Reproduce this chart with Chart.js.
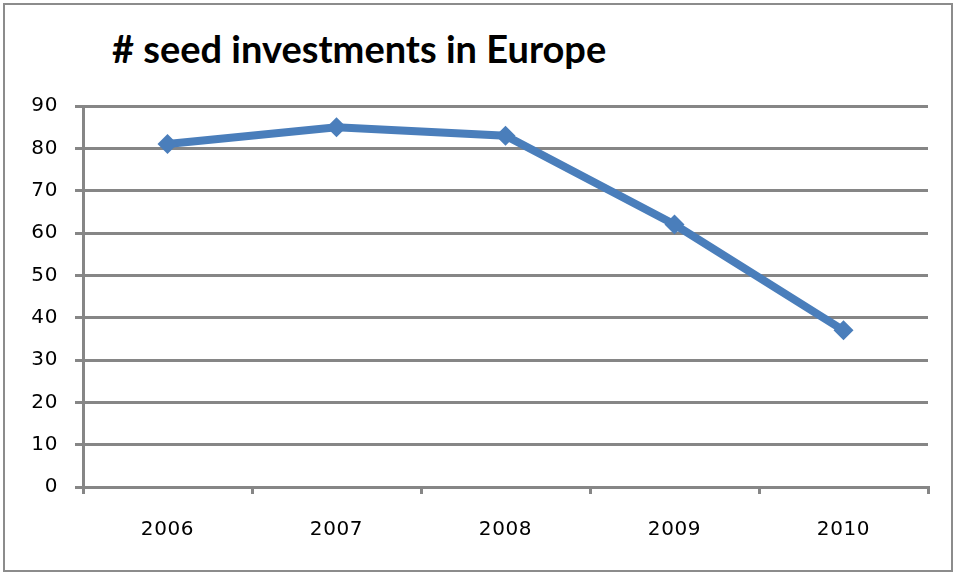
<!DOCTYPE html>
<html>
<head>
<meta charset="utf-8">
<script src="https://cdn.jsdelivr.net/npm/chart.js@4/dist/chart.umd.min.js"></script>
<style>
  html, body { margin: 0; padding: 0; background: #fff; }
  #wrap { position: relative; width: 956px; height: 573px; }
  #frame { position: absolute; left: 3px; top: 3px; width: 946px; height: 565px; border: 2px solid #8c8c8c; }
  #title { position: absolute; left: 112px; top: 29px; font: bold 38px/1 Lato, "Open Sans", sans-serif; color: #000; white-space: nowrap; }
  canvas { position: absolute; left: 0; top: 0; }
</style>
</head>
<body>
<div id="wrap">
  <div id="frame"></div>
  <div id="title"># seed investments in Europe</div>
  <canvas id="chart" width="956" height="573"></canvas>
</div>
<script>
const years = ['2006', '2007', '2008', '2009', '2010'];
const seedInvestments = [81, 85, 83, 62, 37];
const yMin = 0, yMax = 90, yStep = 10;

const gray = '#868686';
const blue = '#4a7ebb';

// slightly spaced tick digits like the original
const spacing = {
    id: 'spacing',
    beforeDraw: c => { c.ctx.letterSpacing = '0.6px'; }
};

const ctx = document.getElementById('chart').getContext('2d');
new Chart(ctx, {
    type: 'line',
    data: {
        labels: years,
        datasets: [{
            data: seedInvestments,
            borderColor: blue, backgroundColor: blue,
            borderWidth: 8, tension: 0,
            pointStyle: 'rectRot', pointRadius: 10, pointHoverRadius: 10,
            pointBorderWidth: 0
        }]
    },
    options: {
        responsive: false, animation: false,
        layout: { padding: { top: 106, right: 28, bottom: 20, left: 0 } },
        plugins: { legend: { display: false }, tooltip: { enabled: false } },
        scales: {
            x: {
                offset: true,
                grid: { offset: true, drawOnChartArea: false, color: gray, lineWidth: 3, tickLength: 7 },
                border: { color: gray, width: 3 },
                ticks: { color: '#000', padding: 24, font: { family: 'DejaVu Sans', size: 20 } },
                afterFit: s => { s.height = 66; }
            },
            y: {
                min: yMin, max: yMax,
                grid: { color: gray, lineWidth: 3, tickLength: 8 },
                border: { color: gray, width: 3 },
                ticks: { stepSize: yStep, color: '#000', padding: 17, font: { family: 'DejaVu Sans', size: 20 } },
                afterFit: s => { s.width = 83; }
            }
        }
    },
    plugins: [spacing]
});
</script>
</body>
</html>
